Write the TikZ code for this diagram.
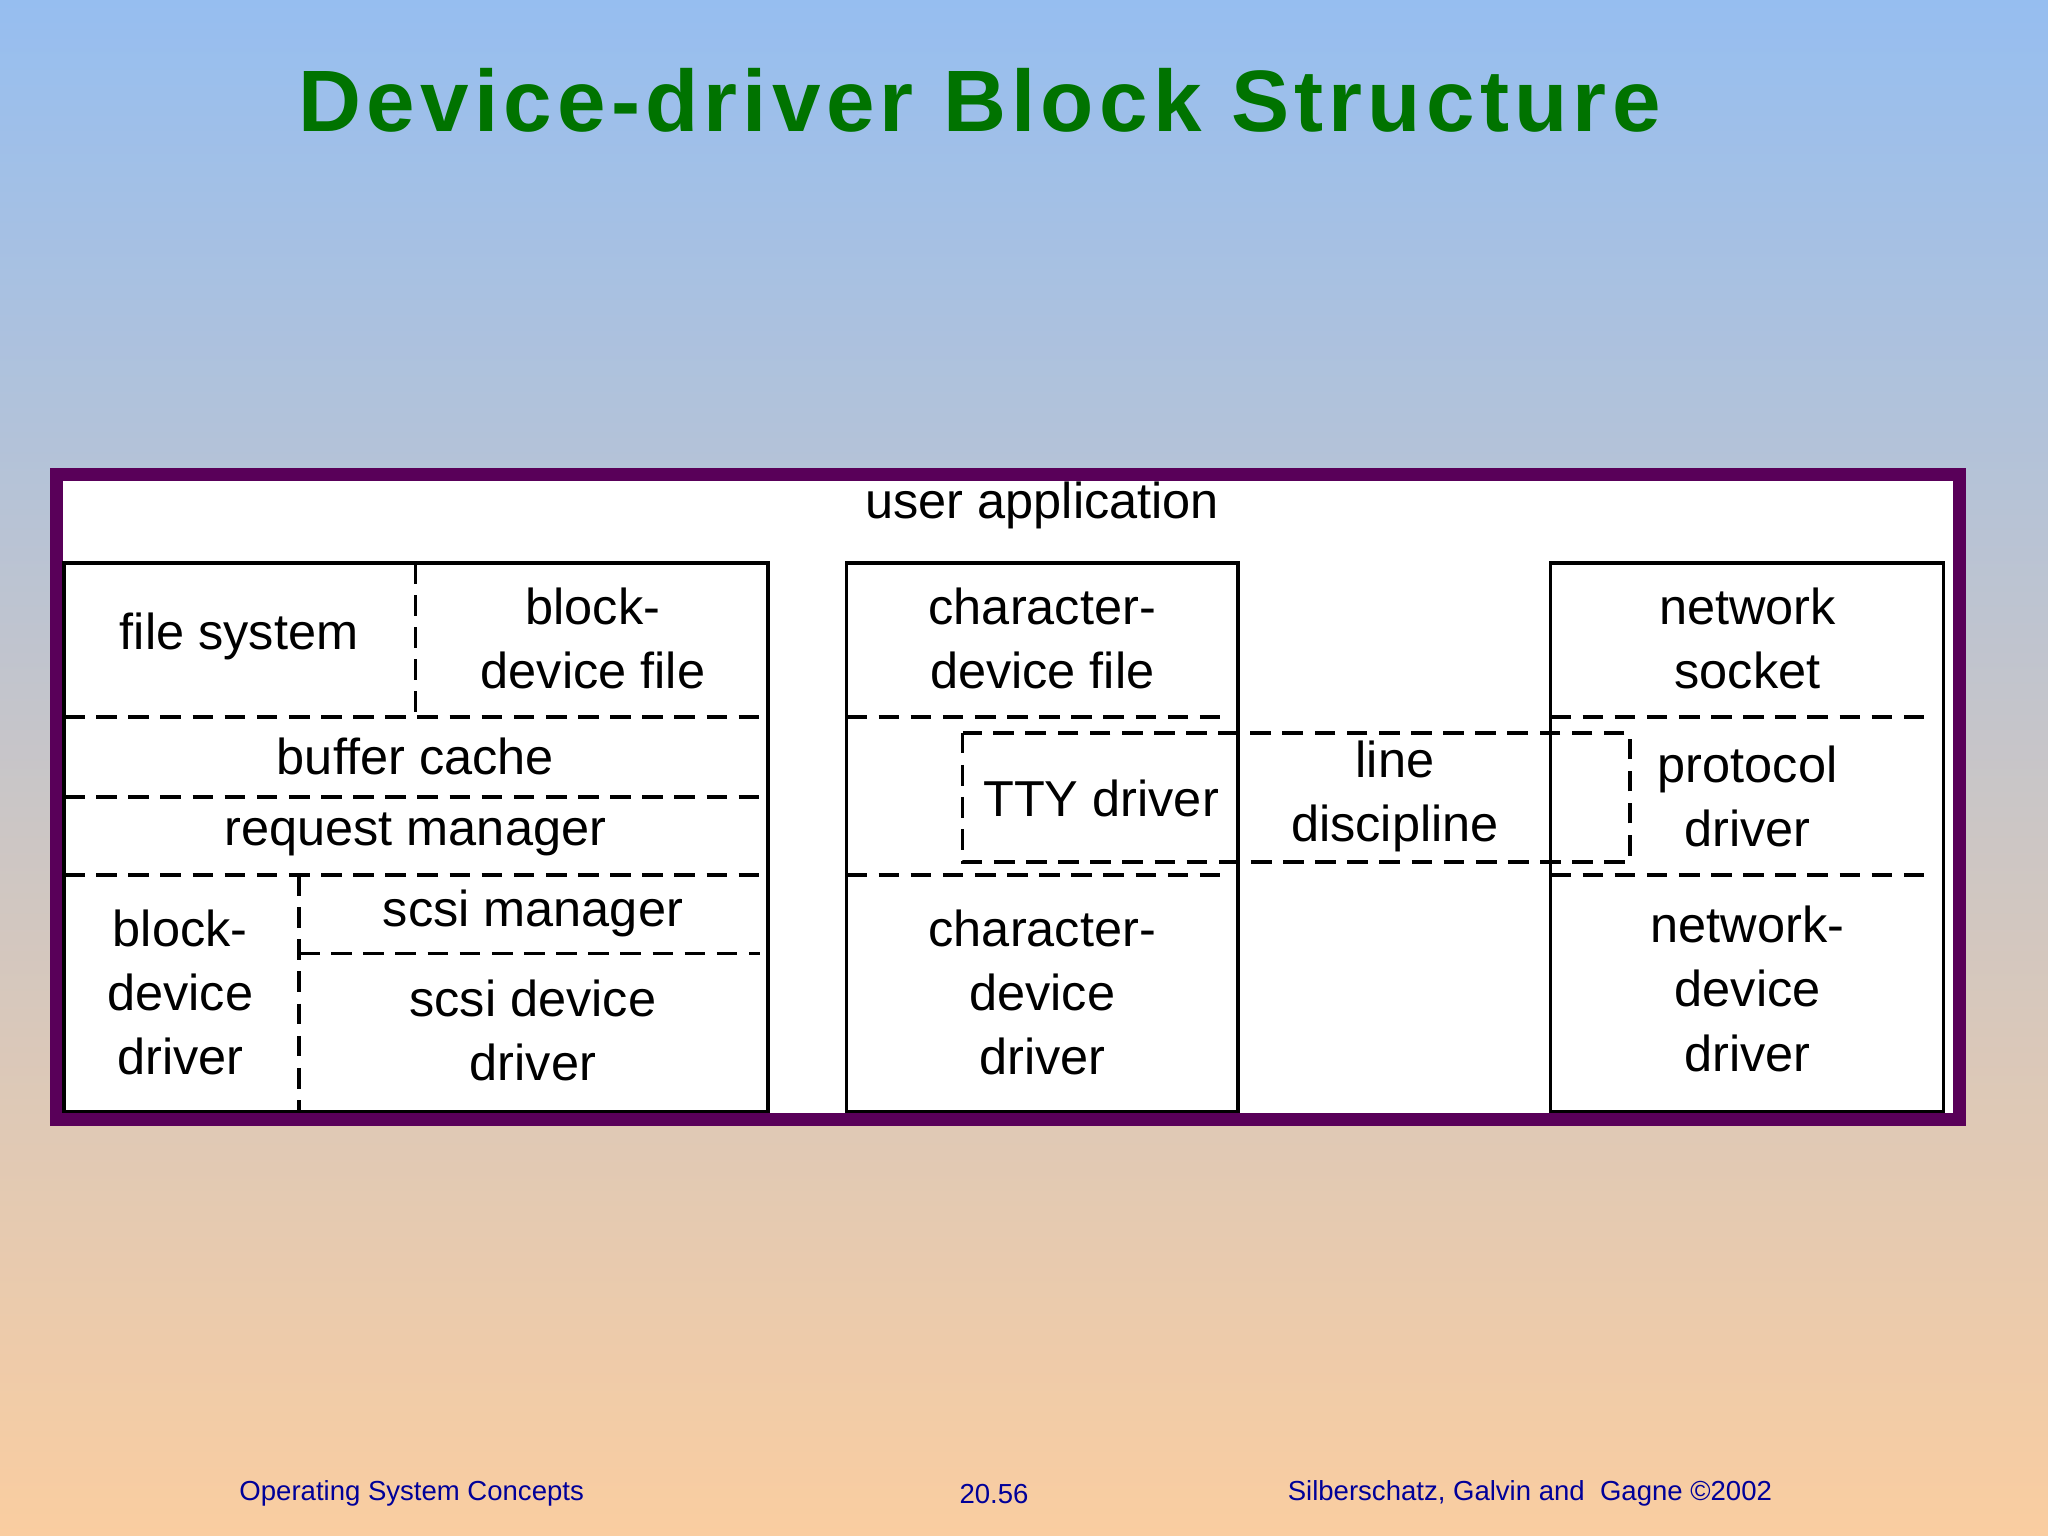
\documentclass[tikz,border=0pt]{standalone}
\usepackage{fontspec}
\setmainfont{Liberation Sans}
\newfontfamily\titlefont[LetterSpace=6]{Liberation Sans}
\definecolor{sktop}{RGB}{150,190,240}
\definecolor{skmid}{RGB}{200,205,215}
\definecolor{skbot}{RGB}{250,205,160}
\begin{document}
\begin{tikzpicture}[x=0.02cm,y=-0.02cm,
  box/.style={draw=black,line width=1.6pt},
  dsh/.style={draw=black,line width=1.6pt,dash pattern=on 9pt off 5pt},
  lbl/.style={align=center,font=\fontsize{22}{28}\selectfont,inner sep=0pt},
  foot/.style={font=\fontsize{12}{14}\selectfont,text=blue!60!black,inner sep=0pt}]
\useasboundingbox (0,0) rectangle (1568,1176);
\shade[top color=sktop, middle color=skmid, bottom color=skbot] (0,0) rectangle (1568,1176);
\node[inner sep=0pt,text=green!45!black] (title) at (750,77)
  {\titlefont\fontsize{38}{42}\selectfont\bfseries Device-driver Block Structure};
% frame
\fill[violet!70!black] (38,358) rectangle (1505,862);
\fill[white] (48,368) rectangle (1495,852);
\node[lbl] (ua) at (798,387) {user application};
% dashed line-discipline box
\draw[dsh] (737,561) rectangle (1248,660);
% left block
\draw[box] (49,431) rectangle (588,851);
\draw[dsh] (318,431) -- (318,549);
\draw[dsh] (49,549) -- (582,549);
\draw[dsh] (49,610) -- (582,610);
\draw[dsh] (49,670) -- (582,670);
\draw[dsh] (229,670) -- (229,851);
\draw[dsh] (229,730) -- (582,730);
\node[lbl] (fs) at (183,487) {file system};
\node[lbl] (bdf) at (454,489) {block-\\device file};
\node[lbl] (bc) at (318,579) {buffer cache};
\node[lbl] (rm) at (318,639) {request manager};
\node[lbl] (bdd) at (138,760) {block-\\device\\driver};
\node[lbl] (sm) at (408,699) {scsi manager};
\node[lbl] (sdd) at (408,789) {scsi device\\driver};
% middle block
\fill[white] (649,550) rectangle (736,669);
\draw[box] (648,431) rectangle (948,851);
\draw[dsh] (648,549) -- (942,549);
\draw[dsh] (648,670) -- (942,670);
\node[lbl] (cdf) at (798,489) {character-\\device file};
\node[lbl] (tty) at (843,611) {TTY driver};
\node[lbl] (cdd) at (798,760) {character-\\device\\driver};
\node[lbl] (ld) at (1068,610) {line\\discipline};
% right block
\draw[box] (1187,431) rectangle (1488,851);
\draw[dsh] (1187,549) -- (1482,549);
\draw[dsh] (1187,670) -- (1482,670);
\node[lbl] (ns) at (1338,489) {network\\socket};
\node[lbl] (pd) at (1338,610) {protocol\\driver};
\node[lbl] (ndd) at (1338,757) {network-\\device\\driver};
% footer
\node[foot,anchor=west] (osc) at (183,1143) {Operating System Concepts};
\node[foot] (pg) at (761,1144) {20.56};
\node[foot,anchor=east] (auth) at (1357,1143) {Silberschatz, Galvin and\ \ Gagne \textcopyright 2002};
\end{tikzpicture}
\end{document}
